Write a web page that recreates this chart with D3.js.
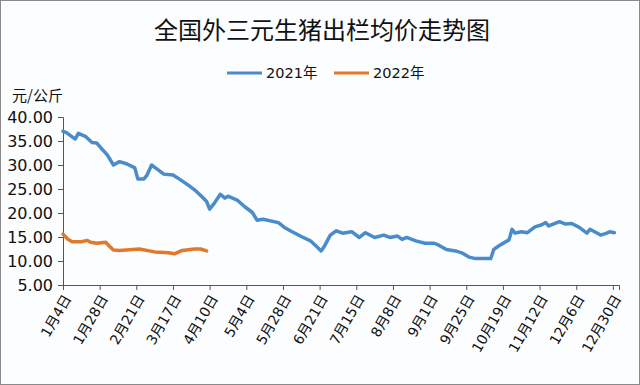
<!DOCTYPE html>
<html>
<head>
<meta charset="utf-8">
<script src="https://cdn.jsdelivr.net/npm/d3@7"></script>
<style>
  body { margin: 0; background: #fff; }
  svg { display: block; }
</style>
</head>
<body>
<svg id="chart"></svg>
<script>
// 2021 price series (date in 2021, yuan/kg)
const dates2021 = ["01-04","01-06","01-12","01-14","01-19","01-23","01-26","01-29","02-02","02-06",
  "02-10","02-15","02-20","02-22","02-26","02-28","03-03","03-06","03-11","03-17",
  "03-22","03-27","04-01","04-05","04-08","04-10","04-13","04-17","04-20","04-22",
  "04-28","05-03","05-08","05-11","05-15","05-25","05-29","06-03","06-09","06-15",
  "06-19","06-22","06-24","06-28","07-02","07-06","07-12","07-17","07-21","07-27",
  "08-02","08-06","08-11","08-14","08-17","08-23","08-29","09-04","09-07","09-12",
  "09-18","09-22","09-27","10-01","10-11","10-13","10-17","10-23","10-25","10-27",
  "10-31","11-04","11-09","11-13","11-16","11-18","11-25","11-29","12-03","12-08",
  "12-13","12-15","12-22","12-26","12-28","12-31"]
const values2021 = [37.0,36.8,35.4,36.6,35.9,34.7,34.6,33.5,32.1,30.0,
  30.7,30.2,29.4,27.1,27.1,27.9,30.0,29.3,28.1,27.9,
  26.9,25.8,24.6,23.4,22.4,20.8,22.0,23.9,23.1,23.5,
  22.7,21.3,20.1,18.5,18.7,18.0,17.0,16.1,15.1,14.2,
  13.0,12.1,13.0,15.4,16.3,15.8,16.1,14.9,15.9,14.9,
  15.4,14.9,15.2,14.5,14.9,14.2,13.7,13.7,13.3,12.4,
  12.1,11.7,10.8,10.5,10.5,12.4,13.3,14.4,16.6,15.8,
  16.1,15.9,17.1,17.5,18.0,17.3,18.2,17.7,17.8,17.0,
  15.8,16.6,15.4,15.8,16.1,15.9]

// 2022 price series
const dates2022 = ["01-04","01-07","01-10","01-16","01-20","01-22","01-26","02-01","02-03","02-06",
  "02-10","02-23","03-05","03-14","03-18","03-23","03-31","04-04","04-08"]
const values2022 = [15.6,14.6,14.0,14.0,14.3,13.9,13.7,13.9,13.2,12.3,
  12.2,12.5,11.9,11.7,11.5,12.2,12.5,12.5,12.1]

const tickDates = ["01-04","01-28","02-21","03-17","04-10","05-04","05-28","06-21",
  "07-15","08-08","09-01","09-25","10-19","11-12","12-06","12-30"]
const yTicks = [5, 10, 15, 20, 25, 30, 35, 40]

const seriesNames = ["2021年", "2022年"]
const seriesColors = ["#4a8ccb", "#e2792a"]

const width = 640, height = 385
const parse = d3.timeParse("%Y-%m-%d")
const toDate = md => parse("2021-" + md)

const svg = d3.select("#chart")
  .attr("width", width)
  .attr("height", height)

svg.append("rect")
  .attr("x", 0.5).attr("y", 0.5)
  .attr("width", width - 1).attr("height", height - 1)
  .attr("fill", "#fbfdfe")
  .attr("stroke", "#8a8a8a")

const x = d3.scaleTime()
  .domain([toDate("01-04"), parse("2022-01-03")])
  .range([63, 619])

const y = d3.scaleLinear()
  .domain([5, 40])
  .range([285, 117])

// title
svg.append("text")
  .attr("x", 322).attr("y", 39)
  .attr("text-anchor", "middle")
  .attr("font-family", "Noto Sans CJK SC")
  .attr("font-size", 24)
  .attr("fill", "#111")
  .text("全国外三元生猪出栏均价走势图")

// legend
const legend = svg.append("g").attr("font-family", "DejaVu Sans, Noto Sans CJK SC")
const legendX = [227, 334]
seriesNames.forEach((name, i) => {
  legend.append("line")
    .attr("x1", legendX[i]).attr("x2", legendX[i] + 35)
    .attr("y1", 73).attr("y2", 73)
    .attr("stroke", seriesColors[i])
    .attr("stroke-width", 3)
  legend.append("text")
    .attr("x", legendX[i] + 39).attr("y", 78)
    .attr("font-size", 14.5)
    .attr("fill", "#111")
    .text(name)
})

// unit label
svg.append("text")
  .attr("x", 12).attr("y", 101)
  .attr("font-family", "Noto Sans CJK SC")
  .attr("font-size", 15)
  .attr("fill", "#111")
  .text("元/公斤")

// y axis
const yAxis = svg.append("g")
  .attr("transform", "translate(63,0)")
  .call(d3.axisLeft(y).tickValues(yTicks).tickFormat(d3.format(".2f")).tickSize(5).tickPadding(5))
yAxis.selectAll("text")
  .attr("font-family", "DejaVu Sans")
  .attr("font-size", 16)
  .attr("fill", "#111")

// x axis
const xAxis = svg.append("g")
  .attr("transform", "translate(0,285)")
  .call(d3.axisBottom(x).tickValues(tickDates.map(toDate)).tickSize(5).tickFormat(""))

xAxis.selectAll(".tick").append("text")
  .attr("transform", "translate(4,11) rotate(-60)")
  .attr("text-anchor", "end")
  .attr("dy", "0.35em")
  .attr("font-family", "DejaVu Sans, Noto Sans CJK SC")
  .attr("font-size", 14)
  .attr("fill", "#111")
  .text((d, i) => (d.getMonth() + 1) + "月" + d.getDate() + "日")

svg.selectAll(".domain, .tick line").attr("stroke", "#555")

// lines
const line = d3.line()
  .x(d => x(d.date))
  .y(d => y(d.value))

const series = [
  dates2021.map((d, i) => ({date: toDate(d), value: values2021[i]})),
  dates2022.map((d, i) => ({date: toDate(d), value: values2022[i]}))
]

svg.append("g")
  .selectAll("path")
  .data(series)
  .enter().append("path")
  .attr("d", line)
  .attr("fill", "none")
  .attr("stroke", (d, i) => seriesColors[i])
  .attr("stroke-width", 3.5)
  .attr("stroke-linejoin", "round")
  .attr("stroke-linecap", "round")
</script>
</body>
</html>
